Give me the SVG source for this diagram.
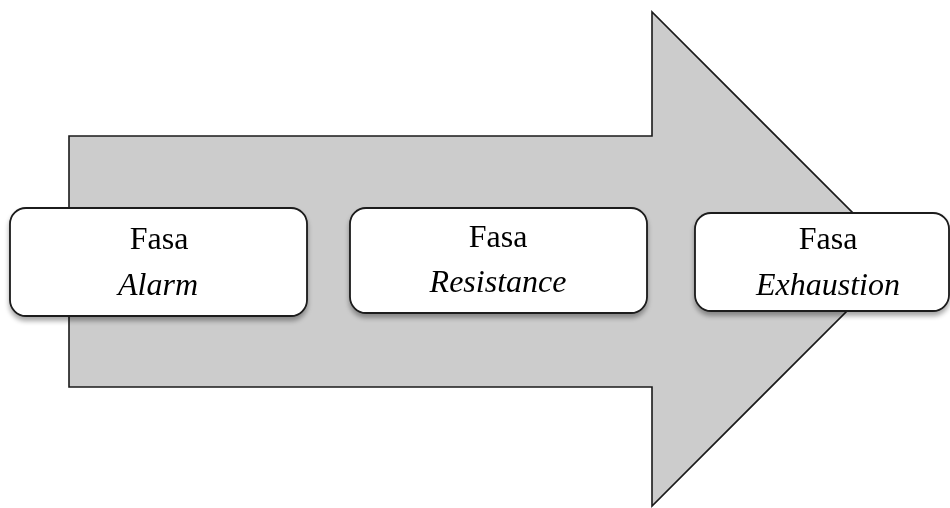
<svg xmlns="http://www.w3.org/2000/svg" width="950" height="508" viewBox="0 0 950 508">
<defs>
<filter id="sh" x="-10%" y="-10%" width="120%" height="140%">
<feGaussianBlur in="SourceAlpha" stdDeviation="2.5"/>
<feOffset dx="0" dy="4" result="b"/>
<feComponentTransfer><feFuncA type="linear" slope="0.35"/></feComponentTransfer>
<feMerge><feMergeNode/><feMergeNode in="SourceGraphic"/></feMerge>
</filter>
</defs>
<style>
.arrow{fill:#cccccc;stroke:#1a1a1a;stroke-width:1.6;stroke-linejoin:miter}
.box{fill:#ffffff;stroke:#1a1a1a;stroke-width:1.8}
.t{font-family:"Liberation Serif","Times New Roman",serif;font-size:32px;fill:#000;text-anchor:middle}
.i{font-style:italic}
</style>
<g id="arrow">
<path class="arrow" d="M69,136 L652,136 L652,12 L899,259 L652,506 L652,387 L69,387 Z"/>
</g>
<g id="node-alarm" filter="url(#sh)">
<rect class="box" x="10" y="208" width="297" height="108" rx="16"/>
<text class="t" x="159" y="249">Fasa</text>
<text class="t i" x="158" y="295">Alarm</text>
</g>
<g id="node-resistance" filter="url(#sh)">
<rect class="box" x="350" y="208" width="297" height="105" rx="16"/>
<text class="t" x="498" y="247">Fasa</text>
<text class="t i" x="498" y="292">Resistance</text>
</g>
<g id="node-exhaustion" filter="url(#sh)">
<rect class="box" x="695" y="213" width="254" height="98" rx="16"/>
<text class="t" x="828" y="249">Fasa</text>
<text class="t i" x="828" y="295">Exhaustion</text>
</g>
<g id="connectors"></g>
</svg>
